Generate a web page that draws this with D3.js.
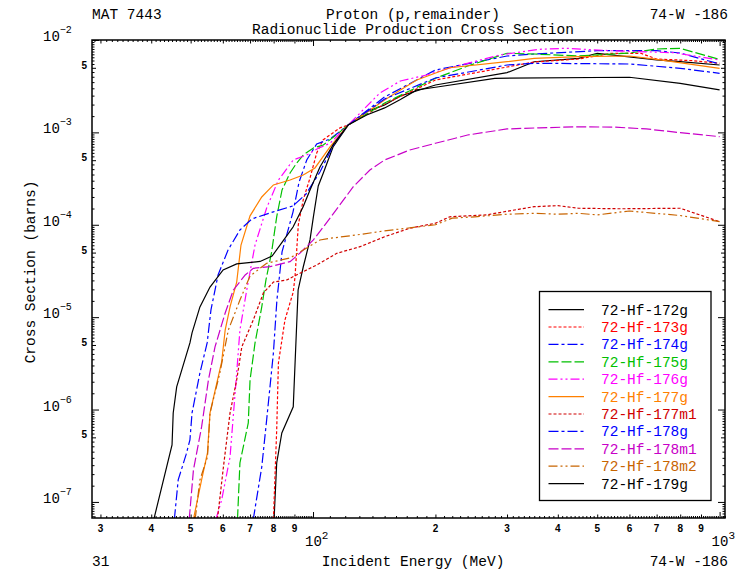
<!DOCTYPE html>
<html>
<head>
<meta charset="utf-8">
<script src="https://cdn.jsdelivr.net/npm/d3@7"></script>
<style>
body { margin: 0; background: #fff; }
svg text { font-family: "Liberation Mono", "DejaVu Sans Mono", monospace; }
</style>
</head>
<body>
<div class="vis-xs"></div>
<script>
// energy (MeV), cross section (barns)
const hf172g = [[80.2,6.5e-8],[81.4,2.64e-7],[83.8,5.58e-7],[89.4,1.07e-6],[91.9,1.97e-5],[94.6,3.49e-5],[98.3,6.85e-5],[100.2,1.22e-4],[103,2.63e-4],[106,3.64e-4],[112,6.95e-4],[122,1.20e-3],[135.5,1.68e-3],[150,1.98e-3],[164,2.48e-3],[200,3.26e-3],[300,4.43e-3],[350,5.82e-3],[450,6.34e-3],[500,7.18e-3],[700,6.08e-3],[800,5.82e-3],[1000,5.36e-3]];
const hf173g = [[79.9,6.5e-8],[81.4,6.01e-7],[82.2,3.19e-6],[85.3,9.33e-6],[89.4,1.87e-5],[90.3,2.72e-5],[92.0,1.00e-4],[94.6,1.86e-4],[98.3,3.21e-4],[102.1,5.98e-4],[105.8,8.28e-4],[116.5,1.12e-3],[122,1.20e-3],[150,2.03e-3],[200,3.69e-3],[300,5.10e-3],[350,5.78e-3],[450,6.23e-3],[540,7.18e-3],[640,7.18e-3],[700,6.23e-3],[860,5.97e-3],[1000,5.60e-3]];
const hf174g = [[71.3,6.5e-8],[74.8,2.39e-7],[76.9,7.72e-7],[79.9,4.10e-6],[81.5,1.53e-5],[83.9,5.08e-5],[89.3,1.38e-4],[92.4,2.90e-4],[96.5,5.03e-4],[102.1,7.49e-4],[110.1,8.48e-4],[122,1.20e-3],[150,2.42e-3],[200,4.73e-3],[300,6.71e-3],[350,7.05e-3],[500,7.66e-3],[700,7.66e-3],[800,7.23e-3],[1000,5.50e-3]];
const hf175g = [[65.2,6.5e-8],[66.1,2.64e-7],[69.3,7.16e-7],[70.0,2.09e-6],[72.0,5.26e-6],[74.8,1.29e-5],[76.6,2.53e-5],[79.1,5.08e-5],[81.4,1.22e-4],[83.9,2.38e-4],[87.8,3.64e-4],[91.2,4.67e-4],[94.6,5.69e-4],[100.2,6.78e-4],[106,7.31e-4],[114,9.37e-4],[122,1.20e-3],[150,2.08e-3],[200,3.85e-3],[240,5.23e-3],[300,7.18e-3],[350,7.05e-3],[450,6.71e-3],[600,7.23e-3],[700,7.99e-3],[800,8.13e-3],[1000,6.15e-3]];
const hf176g = [[57.7,6.5e-8],[59.6,1.05e-7],[62.5,3.07e-7],[64.7,2.09e-6],[66.1,7.26e-6],[68.7,1.97e-5],[72.0,6.04e-5],[76.9,1.52e-4],[82.2,3.05e-4],[89.4,5.03e-4],[96.5,5.69e-4],[103,6.73e-4],[110.1,7.62e-4],[122,1.20e-3],[146,2.67e-3],[164,3.60e-3],[190,4.18e-3],[217,4.98e-3],[288,6.89e-3],[360,7.93e-3],[420,8.13e-3],[540,7.66e-3],[770,7.29e-3],[1000,6.08e-3]];
const hf177g = [[50.8,6.5e-8],[53.2,1.73e-7],[55.0,3.39e-7],[55.8,9.19e-7],[59.6,3.27e-6],[60.8,7.26e-6],[62.5,1.29e-5],[64.9,2.40e-5],[66.5,6.04e-5],[70.0,1.25e-4],[74.8,2.00e-4],[79.9,2.70e-4],[87.8,3.05e-4],[94.6,3.46e-4],[101.1,4.12e-4],[110.1,6.95e-4],[122,1.20e-3],[150,2.24e-3],[164,2.88e-3],[180,3.69e-3],[217,5.01e-3],[300,5.82e-3],[350,6.34e-3],[450,6.60e-3],[600,6.71e-3],[700,6.18e-3],[1000,4.94e-3]];
const hf177m1 = [[58.2,6.5e-8],[60.2,2.39e-7],[62.5,9.19e-7],[64.9,2.09e-6],[66.8,4.76e-6],[71.3,9.33e-6],[75.5,1.83e-5],[79.9,2.40e-5],[86.2,2.53e-5],[92.9,2.99e-5],[102.1,3.67e-5],[114.4,4.91e-5],[130.5,5.79e-5],[150,7.43e-5],[173,9.17e-5],[200,1.04e-4],[217,1.22e-4],[267,1.28e-4],[320,1.47e-4],[350,1.57e-4],[400,1.61e-4],[450,1.51e-4],[570,1.49e-4],[800,1.51e-4],[1000,1.08e-4]];
const hf178g = [[45.6,6.5e-8],[46.6,1.73e-7],[48.7,3.23e-7],[49.8,4.69e-7],[50.4,9.19e-7],[52.7,2.49e-6],[54.9,5.26e-6],[56.1,1.20e-5],[58.4,2.86e-5],[61.8,5.33e-5],[66.1,8.79e-5],[70.8,1.16e-4],[79.9,1.38e-4],[89.3,1.60e-4],[96.1,2.15e-4],[104,3.73e-4],[113.3,7.87e-4],[122,1.20e-3],[150,2.30e-3],[200,3.88e-3],[300,5.36e-3],[350,5.60e-3],[600,5.50e-3],[800,4.94e-3],[1000,4.36e-3]];
const hf178m1 = [[49.6,6.5e-8],[50.8,2.22e-7],[53.2,6.48e-7],[55.3,2.09e-6],[57.4,4.76e-6],[60.8,1.11e-5],[63.7,1.97e-5],[68.1,2.86e-5],[71.3,3.38e-5],[78.4,3.52e-5],[87.8,3.99e-5],[92.9,4.95e-5],[100.2,6.85e-5],[110.1,1.18e-4],[125.6,2.58e-4],[138,3.92e-4],[150,5.03e-4],[173,6.45e-4],[200,7.62e-4],[240,9.37e-4],[300,1.09e-3],[360,1.12e-3],[450,1.15e-3],[550,1.14e-3],[660,1.09e-3],[800,9.93e-4],[1000,8.99e-4]];
const hf178m2 = [[51.3,6.5e-8],[52.7,1.73e-7],[55.0,3.07e-7],[55.8,9.19e-7],[59.0,2.49e-6],[61.9,7.26e-6],[66.1,1.53e-5],[70.0,2.79e-5],[76.9,3.83e-5],[87.8,4.37e-5],[96.5,5.61e-5],[104,6.85e-5],[110.1,7.14e-5],[128,7.76e-5],[149,8.57e-5],[170,9.17e-5],[200,1.00e-4],[220,1.18e-4],[250,1.22e-4],[300,1.30e-4],[350,1.33e-4],[400,1.30e-4],[450,1.33e-4],[500,1.28e-4],[600,1.41e-4],[800,1.26e-4],[1000,1.08e-4]];
const hf179g = [[40.6,6.5e-8],[45.0,4.14e-7],[45.3,9.19e-7],[46.2,1.76e-6],[49.8,5.26e-6],[50.4,6.75e-6],[52.7,1.29e-5],[55.8,2.12e-5],[60.1,3.24e-5],[64.9,3.77e-5],[74.1,4.01e-5],[79.3,4.59e-5],[84.4,6.68e-5],[89.3,9.46e-5],[94.5,1.56e-4],[98.3,2.38e-4],[104,4.22e-4],[112,7.31e-4],[122,1.20e-3],[135.5,1.54e-3],[150,1.84e-3],[164,2.27e-3],[180,2.88e-3],[200,3.08e-3],[280,3.85e-3],[600,3.95e-3],[800,3.40e-3],[1000,2.88e-3]];

const isotopes = ['72-Hf-172g','72-Hf-173g','72-Hf-174g','72-Hf-175g','72-Hf-176g','72-Hf-177g','72-Hf-177m1','72-Hf-178g','72-Hf-178m1','72-Hf-178m2','72-Hf-179g'];
const seriesData = [hf172g, hf173g, hf174g, hf175g, hf176g, hf177g, hf177m1, hf178g, hf178m1, hf178m2, hf179g];

const xDigitTicks = [30,40,50,60,70,80,90,200,300,400,500,600,700,800,900];
const xDecades = [100, 1000];
const yDecades = [1e-2,1e-3,1e-4,1e-5,1e-6,1e-7];
const yFives = [5e-3,5e-4,5e-5,5e-6,5e-7];

// line styles, same order as isotopes
const colors = ['#000000','#ff0000','#0000ff','#00c000','#ff00ff','#ff8000','#d00000','#0000ff','#c800c8','#c86400','#000000'];
const dashes = [null,'3,2','10,3,3,3','10,3','9,3,2,3,2,3',null,'3,2','10,3,3,3','10,3','9,3,2,3,2,3',null];

const W = 745, H = 574;
const margin = {top: 40, right: 20, bottom: 56, left: 92};
const width = W - margin.left - margin.right;
const height = H - margin.top - margin.bottom;

let svg = d3.select('.vis-xs').append('svg')
    .attr('width', W)
    .attr('height', H);

let g = svg.append('g')
    .attr('transform', 'translate(' + margin.left + ',' + margin.top + ')');

let x = d3.scaleLog().domain([28.6, 1031]).range([0, width]);
let y = d3.scaleLog().domain([6.7e-8, 1e-2]).range([height, 0]);

// ticks on all four sides, pointing inward
const xMinor = d3.range(29, 100).concat(d3.range(110, 1040, 10))
    .filter(v => xDigitTicks.indexOf(v) < 0 && xDecades.indexOf(v) < 0);
let yMinor = [];
[-8,-7,-6,-5,-4,-3].forEach(p => {
    for (let k = 1.5; k < 10; k += 0.5) {
        let v = k * Math.pow(10, p);
        if (k !== 5 && v >= 6.7e-8 && v <= 1e-2) yMinor.push(v);
    }
});

const drawTicks = (vals, xlen, ylen) => {
    if (xlen) {
        g.append('g').attr('transform', 'translate(0,' + height + ')')
            .call(d3.axisBottom(x).tickValues(vals.x).tickSize(-xlen).tickFormat(''));
        g.append('g')
            .call(d3.axisTop(x).tickValues(vals.x).tickSize(-xlen).tickFormat(''));
    }
    if (ylen) {
        g.append('g')
            .call(d3.axisLeft(y).tickValues(vals.y).tickSize(-ylen).tickFormat(''));
        g.append('g').attr('transform', 'translate(' + width + ',0)')
            .call(d3.axisRight(y).tickValues(vals.y).tickSize(-ylen).tickFormat(''));
    }
};
drawTicks({x: xMinor}, 2, 0);
drawTicks({x: xDigitTicks}, 3.5, 0);
drawTicks({x: xDecades}, 6, 0);
drawTicks({y: yMinor}, 0, 2.5);
drawTicks({y: yFives}, 0, 4);
drawTicks({y: yDecades}, 0, 7);
g.selectAll('.domain').remove();
g.selectAll('.tick line').attr('stroke', '#000').attr('stroke-width', 1);

// curves
svg.append('defs').append('clipPath').attr('id', 'plotclip')
    .append('rect').attr('width', width).attr('height', height);

let line = d3.line()
    .x(function (d) { return x(d[0]); })
    .y(function (d) { return y(d[1]); });

g.append('g').attr('clip-path', 'url(#plotclip)')
    .selectAll('path')
    .data(seriesData)
    .enter().append('path')
    .attr('fill', 'none')
    .attr('stroke', (d, i) => colors[i])
    .attr('stroke-width', 1.2)
    .attr('stroke-dasharray', (d, i) => dashes[i])
    .attr('d', line);

// frame
g.append('rect')
    .attr('width', width)
    .attr('height', height)
    .attr('fill', 'none')
    .attr('stroke', '#000')
    .attr('stroke-width', 1.5);

// tick labels
g.selectAll('.xdigit')
    .data(xDigitTicks)
    .enter().append('text')
    .attr('x', d => x(d))
    .attr('y', height + 14)
    .attr('text-anchor', 'middle')
    .style('font-family', '"Liberation Sans", Arial, sans-serif')
    .style('font-weight', 'bold')
    .style('font-size', '10px')
    .text(d => String(d).charAt(0));

xDecades.forEach(v => {
    let t = g.append('text')
        .attr('x', x(v) - 8)
        .attr('y', height + 28)
        .style('font-size', '14px')
        .text('10');
    t.append('tspan')
        .attr('dy', -7)
        .style('font-size', '11px')
        .text(Math.round(Math.log10(v)));
});

yDecades.forEach(v => {
    let t = g.append('text')
        .attr('x', -49)
        .attr('y', y(v) + 1)
        .style('font-size', '14px')
        .text('10');
    t.append('tspan')
        .attr('dy', -8)
        .style('font-size', '10px')
        .text('\u2212' + (-Math.round(Math.log10(v))));
});

g.selectAll('.yfive')
    .data(yFives)
    .enter().append('text')
    .attr('x', -5)
    .attr('y', d => y(d) + 1)
    .attr('text-anchor', 'end')
    .style('font-family', '"Liberation Sans", Arial, sans-serif')
    .style('font-weight', 'bold')
    .style('font-size', '10px')
    .text('5');

// titles
const titleSize = '14.5px';
svg.append('text').attr('x', 92).attr('y', 19).style('font-size', titleSize).text('MAT 7443');
svg.append('text').attr('x', 413).attr('y', 19).attr('text-anchor', 'middle').style('font-size', titleSize).text('Proton (p,remainder)');
svg.append('text').attr('x', 728).attr('y', 19).attr('text-anchor', 'end').style('font-size', titleSize).text('74-W -186');
svg.append('text').attr('x', 413).attr('y', 34).attr('text-anchor', 'middle').style('font-size', titleSize).text('Radionuclide Production Cross Section');
svg.append('text').attr('x', 92).attr('y', 566).style('font-size', titleSize).text('31');
svg.append('text').attr('x', 413).attr('y', 566).attr('text-anchor', 'middle').style('font-size', titleSize).text('Incident Energy (MeV)');
svg.append('text').attr('x', 728).attr('y', 566).attr('text-anchor', 'end').style('font-size', titleSize).text('74-W -186');
svg.append('text')
    .attr('transform', 'translate(35,272) rotate(-90)')
    .attr('text-anchor', 'middle')
    .style('font-size', titleSize)
    .text('Cross Section (barns)');

// legend
let legend = svg.append('g');
legend.append('rect')
    .attr('x', 539.5).attr('y', 291.5)
    .attr('width', 171.5).attr('height', 209)
    .attr('fill', '#fff')
    .attr('stroke', '#000')
    .attr('stroke-width', 1.3);

let legendG = legend.selectAll('.legend')
    .data(isotopes)
    .enter().append('g')
    .attr('class', 'legend')
    .attr('transform', (d, i) => 'translate(0,' + (309.6 + i * 17.4) + ')');

legendG.append('line')
    .attr('x1', 548.5).attr('x2', 584)
    .attr('stroke', (d, i) => colors[i])
    .attr('stroke-width', 1.2)
    .attr('stroke-dasharray', (d, i) => dashes[i]);

legendG.append('text')
    .attr('x', 601)
    .attr('y', 5)
    .attr('fill', (d, i) => colors[i])
    .style('font-size', titleSize)
    .text(d => d);
</script>
</body>
</html>
